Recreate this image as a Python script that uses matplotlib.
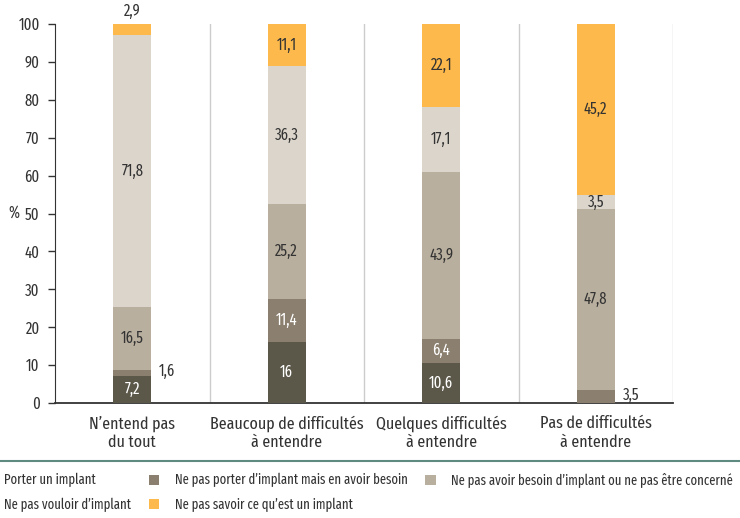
import numpy as np
import matplotlib
matplotlib.use("Agg")
from matplotlib import pyplot as plt
from matplotlib.patches import Patch
from matplotlib.lines import Line2D

plt.rcParams['font.family'] = ['Fira Sans Extra Condensed', 'Liberation Sans Narrow', 'DejaVu Sans']

# categories and series (percent)
categories = ["N\u2019entend pas\ndu tout", "Beaucoup de difficult\u00e9s\n\u00e0 entendre",
              "Quelques difficult\u00e9s\n\u00e0 entendre", "Pas de difficult\u00e9s\n\u00e0 entendre"]
porter = [7.2, 16, 10.6, 0]
besoin_sans = [1.6, 11.4, 6.4, 3.5]
pas_besoin = [16.5, 25.2, 43.9, 47.8]
pas_vouloir = [71.8, 36.3, 17.1, 3.5]
pas_savoir = [2.9, 11.1, 22.1, 45.2]

series_names = ["Porter un implant",
                "Ne pas porter d\u2019implant mais en avoir besoin",
                "Ne pas avoir besoin d\u2019implant ou ne pas \u00eatre concern\u00e9",
                "Ne pas vouloir d\u2019implant",
                "Ne pas savoir ce qu\u2019est un implant"]
colors = ["#5b584a", "#8b7f6f", "#b9af9e", "#dcd5cc", "#fdb94b"]
text_cols = ["white", "white", "#333333", "#333333", "#333333"]

series = [porter, besoin_sans, pas_besoin, pas_vouloir, pas_savoir]

def fmt(v):
    return ('%g' % v).replace('.', ',')

fig = plt.figure(figsize=(7.4, 5.18), dpi=100)
ax = fig.add_axes([55/740, 1-403/518, (673-55)/740, (403-24)/518])

x = np.arange(len(categories))
w = 0.245
bottom = np.zeros(len(categories))
for vals, c, tc in zip(series, colors, text_cols):
    vals = np.array(vals, dtype=float)
    ax.bar(x, vals, w, bottom=bottom, color=c, edgecolor='none', zorder=3)
    for xi, b, v in zip(x, bottom, vals):
        if v <= 0:
            continue
        if v >= 3.4 and not (v < 4 and b < 1):
            ax.text(xi, b + v/2, fmt(v), ha='center', va='center', fontsize=11.5, color=tc, zorder=4)
        elif b + v >= 99.9:
            ax.text(xi, b + v + 1.2, fmt(v), ha='center', va='bottom', fontsize=11.5, color='#333333')
        else:
            ax.text(xi + w/2 + 0.05, b + v/2 + 0.3, fmt(v), ha='left', va='center', fontsize=11.5, color='#333333')
    bottom += vals

ax.set_xlim(-0.5, 3.5)
ax.set_ylim(0, 100)
ax.set_yticks(np.arange(0, 101, 10))
ax.tick_params(axis='y', direction='out', length=5, width=1, colors='#333333', labelsize=11.5, pad=6)
ax.tick_params(axis='x', length=0, labelsize=12.5, colors='#333333', pad=9)
ax.set_xticks(x)
ax.set_xticklabels(categories)
for sep in [0.5, 1.5, 2.5, 3.5]:
    ax.axvline(sep, color='#cccccc', lw=1, zorder=1)
for s in ['top', 'right']:
    ax.spines[s].set_visible(False)
ax.spines['left'].set_color('#333333')
ax.spines['bottom'].set_color('#333333')
ax.spines['bottom'].set_linewidth(1.3)
ax.set_ylabel('%', rotation=0, fontsize=11.5, color='#333333', va='center')
ax.yaxis.set_label_coords(-0.067, 0.5)

fig.add_artist(Line2D([0, 1], [1-461/518, 1-461/518], color='#5e8a80', lw=1.5))

# legend: column-wise order gives rows [0,1,2] and [3,4]
handles = [Patch(facecolor='none', edgecolor='none'),
           Patch(facecolor='none', edgecolor='none'),
           Patch(facecolor=colors[1], edgecolor='none'),
           Patch(facecolor=colors[4], edgecolor='none'),
           Patch(facecolor=colors[2], edgecolor='none')]
labels = [series_names[0], series_names[3], series_names[1], series_names[4], series_names[2]]
leg = fig.legend(handles, labels, ncol=3, loc='upper left', bbox_to_anchor=(-0.036, 1-467/518),
                 frameon=False, fontsize=9.9, handlelength=0.75, handleheight=0.75,
                 handletextpad=1.1, columnspacing=1.3, labelspacing=0.75, borderaxespad=0)
for t in leg.get_texts():
    t.set_color('#333333')

fig.savefig('out.png', dpi=100)
